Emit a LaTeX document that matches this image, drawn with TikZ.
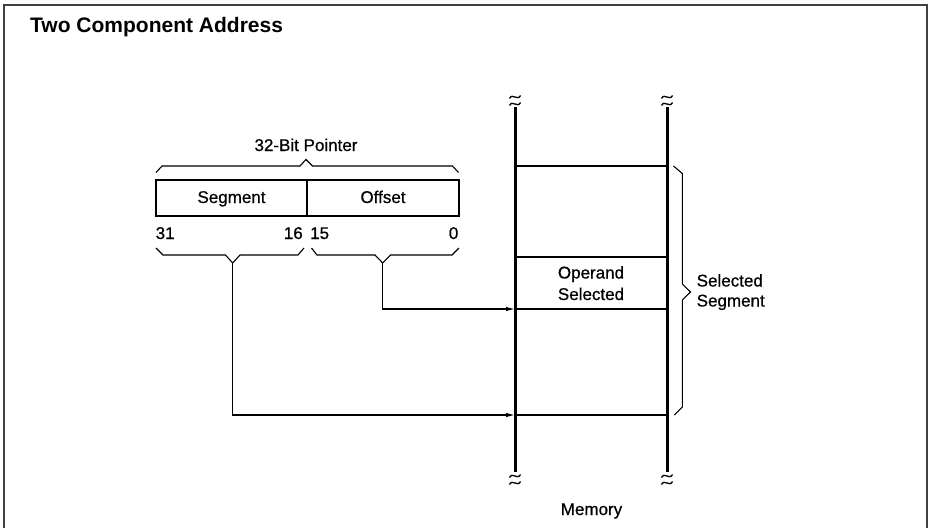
\documentclass[tikz,border=0pt]{standalone}
\usepackage{fontspec}
\setmainfont{Liberation Sans}
\newfontfamily\lblfont[FakeBold=0.6]{Liberation Sans}
\usetikzlibrary{arrows.meta}
\begin{document}
\begin{tikzpicture}[x=1pt,y=-1pt,
  lbl/.style={font=\lblfont\fontsize{17}{19}\selectfont, inner sep=0pt, anchor=base},
  fieldbox/.style={draw, line width=2.6pt, minimum height=36pt, inner sep=0pt,
    text height=13pt, text depth=3pt, font=\lblfont\fontsize{17}{19}\selectfont},
  memline/.style={line width=3pt},
  divline/.style={line width=2.4pt},
  conn/.style={line width=1.2pt},
  brc/.style={line width=1.1pt, line join=miter},
  arr/.style={-{Latex[length=9pt,width=4.5pt]}},
  brk/.style={line width=1.3pt},
  frame/.style={line width=1.6pt, black!75}
]
\useasboundingbox (0,0) rectangle (929,528);
% frame
\draw[frame] (4,528) -- (4,5) -- (927,5) -- (927,528);
\node[anchor=base west, inner sep=0pt, font=\fontsize{21}{24}\selectfont\bfseries] (title) at (30,32) {Two Component Address};

% pointer fields
\node[fieldbox, minimum width=151pt] (seg) at (231.5,198) {Segment};
\node[fieldbox, minimum width=152pt] (off) at (383,198) {Offset};
\node[lbl] (ptr) at (306,151) {32-Bit Pointer};
\node[lbl, anchor=base west] (n31) at (155.5,239) {31};
\node[lbl, anchor=base east] (n16) at (303,239) {16};
\node[lbl, anchor=base west] (n15) at (310,239) {15};
\node[lbl, anchor=base east] (n0) at (458.5,239) {0};

% braces
\draw[brc] (156,172.5) -- (162,166) -- (300,166) -- (306,159.5) -- (312.5,166) -- (452.5,166) -- (458.5,172.5);
\coordinate (segtip) at (232.7,263);
\coordinate (offtip) at (382.7,263);
\draw[brc] (156,248) -- (163,255) -- (225.5,255) -- (segtip) -- (240,255) -- (298,255) -- (304,248);
\draw[brc] (311.5,248) -- (317,255) -- (375,255) -- (offtip) -- (390.5,255) -- (452,255) -- (459,248);

% memory
\coordinate (mtl) at (515,107);
\coordinate (mbl) at (515,472);
\coordinate (mtr) at (667,107);
\coordinate (mbr) at (667,472);
\draw[memline] (mtl) -- (mbl);
\draw[memline] (mtr) -- (mbr);
\coordinate (h1l) at (515,166); \coordinate (h1r) at (667,166);
\coordinate (h2l) at (515,257); \coordinate (h2r) at (667,257);
\coordinate (h3l) at (515,309); \coordinate (h3r) at (667,309);
\coordinate (h4l) at (515,415); \coordinate (h4r) at (667,415);
\draw[divline] (h1l) -- (h1r);
\draw[divline] (h2l) -- (h2r);
\draw[divline] (h3l) -- (h3r);
\draw[divline] (h4l) -- (h4r);

% break marks
\foreach \xx in {515,667}{
  \foreach \yy in {97,104,476,483}{
    \draw[brk] (\xx-5.5,\yy+1.5) .. controls (\xx-2.5,\yy-4.5) and (\xx+2.5,\yy+4.5) .. (\xx+5.5,\yy-1.5);
  }
}

\node[lbl] (oper) at (591,278.5) {Operand};
\node[lbl] (osel) at (591,300) {Selected};
\node[lbl] (mem) at (591.5,515) {Memory};

% selected segment brace
\draw[brc] (673.5,166) -- (682.3,173.5) -- (682.3,284) -- (690.5,292) -- (682.3,300) -- (682.3,407) -- (674.3,415);
\node[lbl, anchor=base west] (ss1) at (696.5,286.5) {Selected};
\node[lbl, anchor=base west] (ss2) at (696.5,306.5) {Segment};

% connectors
\draw[conn,arr] (offtip) |- (h3l);
\draw[conn,arr] (segtip) |- (h4l);
\end{tikzpicture}
\end{document}
